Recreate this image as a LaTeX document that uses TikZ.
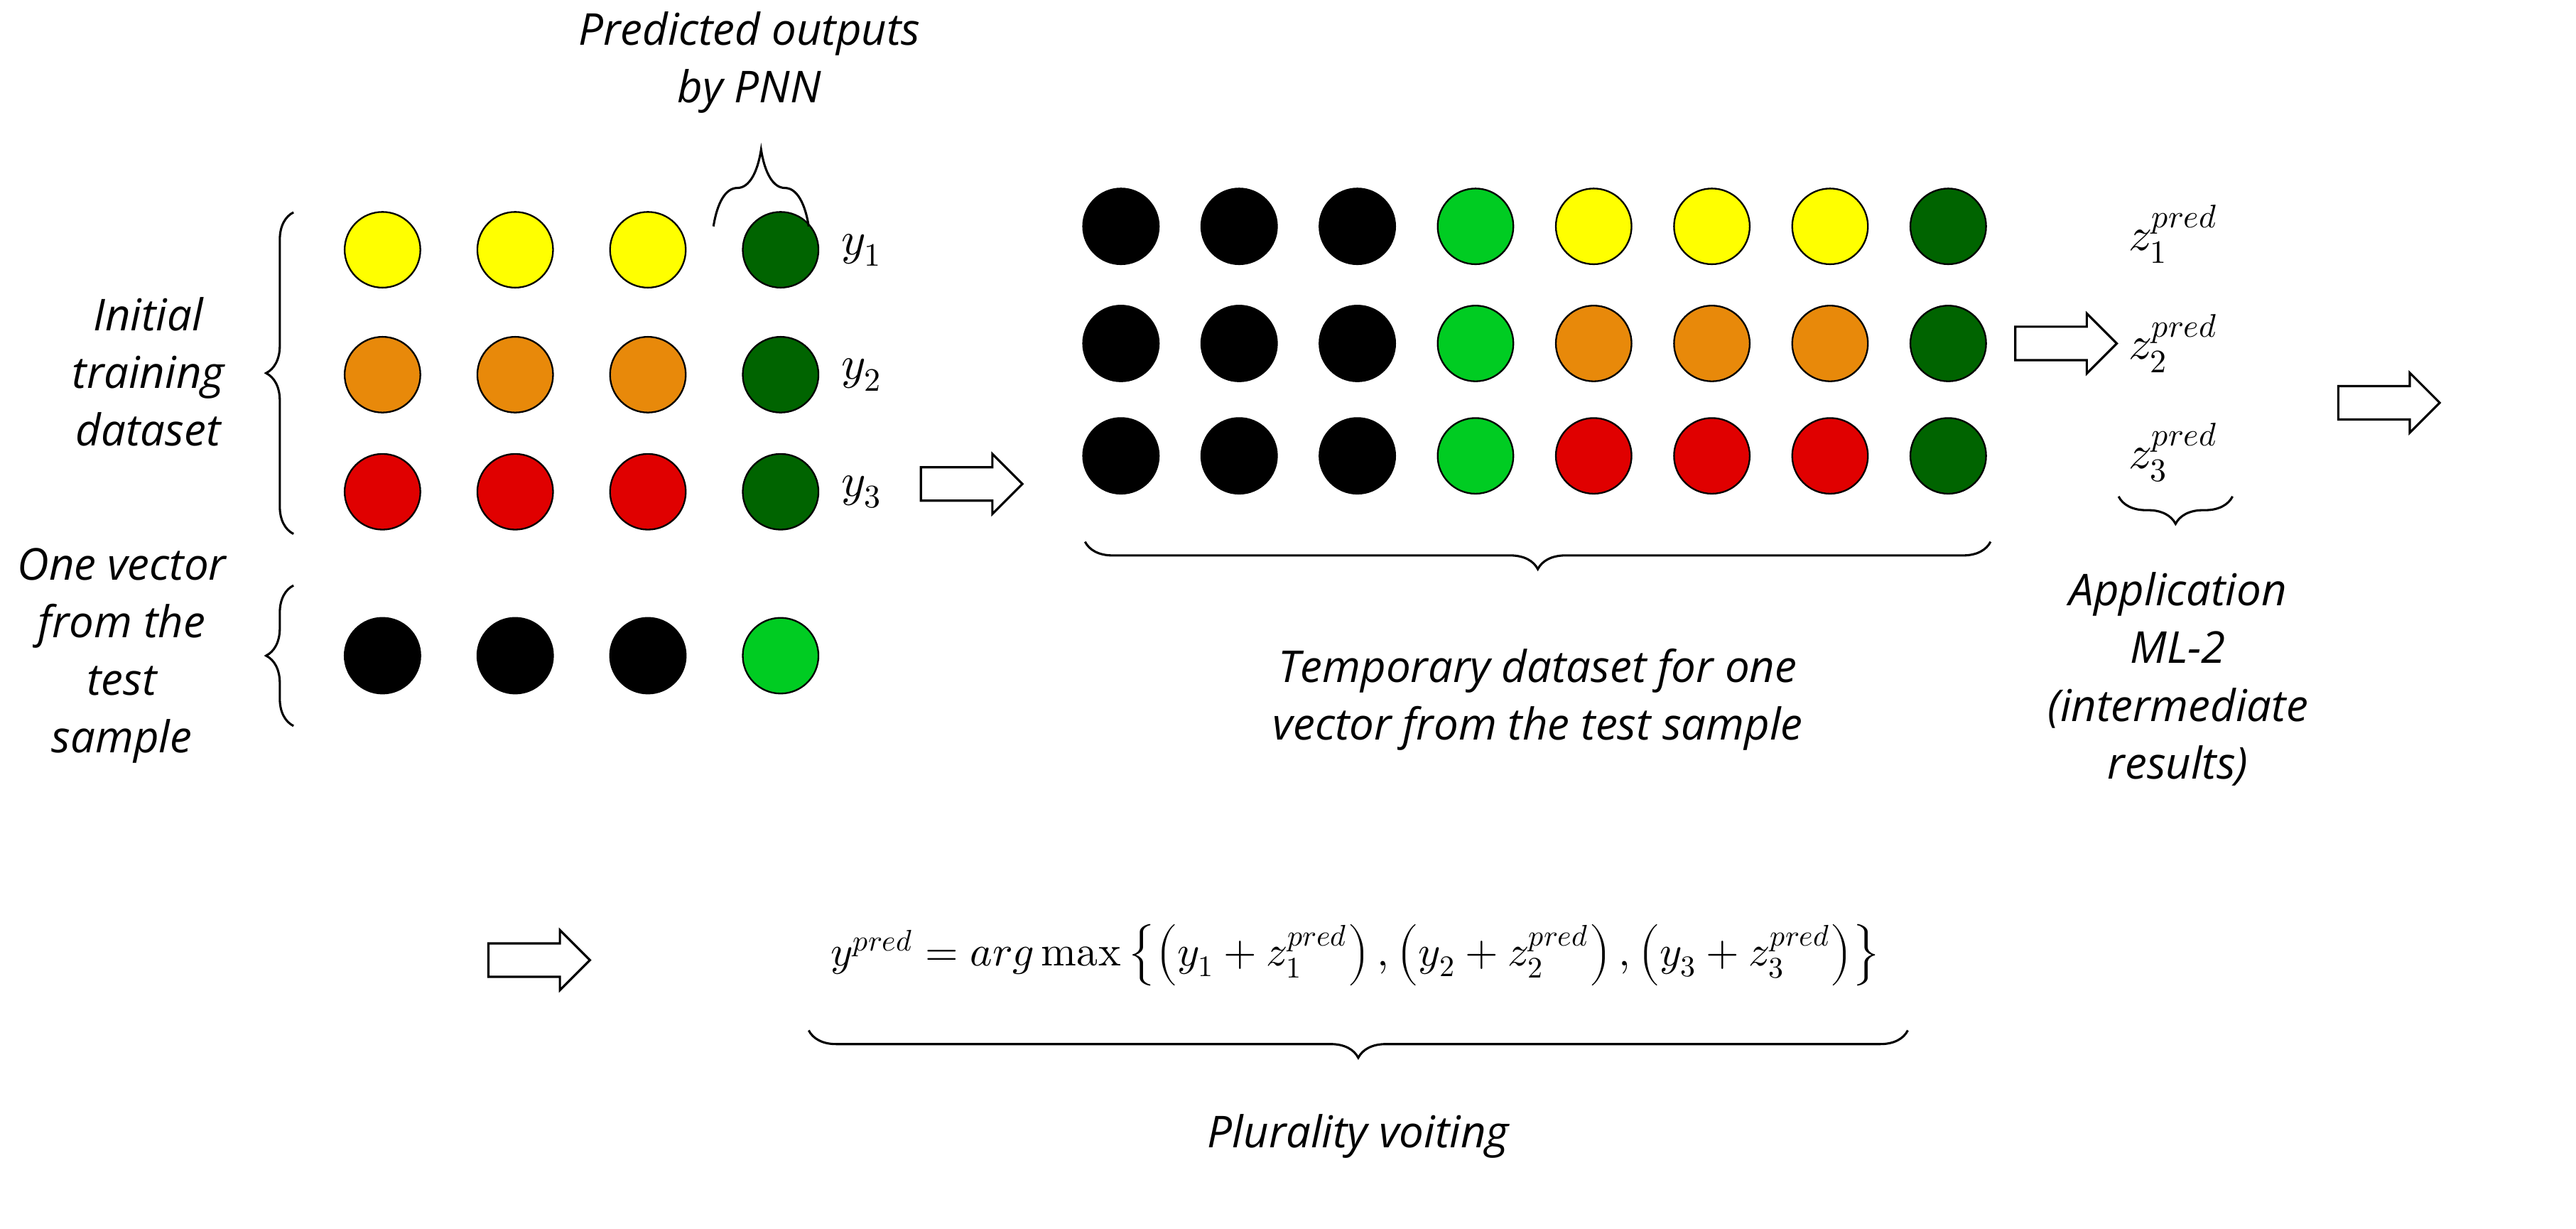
\documentclass[tikz,border=0pt]{standalone}
\usepackage{fontspec}
\setmainfont{Open Sans}
\usepackage{unicode-math}
\setmathfont{Latin Modern Math}
\usetikzlibrary{decorations.pathreplacing,shapes.arrows}
\definecolor{cy}{HTML}{FFFF00}
\definecolor{co}{HTML}{E8890A}
\definecolor{cr}{HTML}{E00000}
\definecolor{cdg}{HTML}{006400}
\definecolor{clg}{HTML}{00CC22}
\begin{document}
\begin{tikzpicture}[x=0.02cm,y=-0.02cm,
  dot/.style={circle,draw=black,line width=0.6pt,minimum size=0.97cm,inner sep=0pt},
  lbl/.style={font=\fontsize{16}{21}\selectfont\itshape,align=center},
  mlbl/.style={font=\fontsize{17}{20}\selectfont},
  br/.style={decorate,decoration={brace,amplitude=10pt},line width=0.8pt},
  harrow/.style={single arrow,draw=black,line width=0.8pt,fill=white,minimum height=1.3cm,inner sep=0.2cm,single arrow head extend=0.17cm}]
\useasboundingbox (0,0) rectangle (1650,787);
% left grid
\foreach \c [count=\i] in {cy,cy,cy,cdg}{\node[dot,fill=\c] (a1\i) at ({160+85*\i},160) {};}
\foreach \c [count=\i] in {co,co,co,cdg}{\node[dot,fill=\c] (a2\i) at ({160+85*\i},240) {};}
\foreach \c [count=\i] in {cr,cr,cr,cdg}{\node[dot,fill=\c] (a3\i) at ({160+85*\i},315) {};}
\foreach \c [count=\i] in {black,black,black,clg}{\node[dot,fill=\c] (t\i) at ({160+85*\i},420) {};}
\node[mlbl] (y1) at (552,160) {$y_1$};
\node[mlbl] (y2) at (552,240) {$y_2$};
\node[mlbl] (y3) at (552,315) {$y_3$};
\draw[br] (188,342) -- (188,136);
\node[lbl] (itd) at (95,238) {Initial\\training\\dataset};
\draw[br] (188,465) -- (188,375);
\node[lbl] (ov) at (78,420) {One vector\\from the\\test\\sample};
\draw[decorate,decoration={brace,amplitude=28pt},line width=0.8pt] (457,145) -- (518,145);
\node[lbl] (pnn) at (480,40) {Predicted outputs\\by PNN};
\node[harrow] (ar1) at (617,310) {};
% middle grid
\foreach \r/\c/\y in {1/cy/145,2/co/220,3/cr/292}{
  \foreach \cc [count=\i] in {black,black,black,clg,\c,\c,\c,cdg}{
    \node[dot,fill=\cc] (m\r\i) at ({718+75.7*(\i-1)},\y) {};}}
\draw[br] (1275,347) -- (695,347);
\node[lbl] (tmp) at (985,448) {Temporary dataset for one\\vector from the test sample};
\node[harrow] (ar2) at (1318,220) {};
\node[mlbl] (z1) at (1392,150) {$z_1^{pred}$};
\node[mlbl] (z2) at (1392,220) {$z_2^{pred}$};
\node[mlbl] (z3) at (1392,290) {$z_3^{pred}$};
\draw[br] (1430,318) -- (1357,318);
\node[lbl] (app) at (1395,435) {Application\\ML-2\\(intermediate\\results)};
\node[harrow,anchor=west] (ar3) at (1497,258) {};
% bottom
\node[harrow] (ar4) at (340,615) {};
\node[font=\fontsize{15.5}{18}\selectfont] (f) at (868,612) {$y^{pred}=arg\,\symup{max}\left\{\left(y_1+z_1^{pred}\right),\left(y_2+z_2^{pred}\right),\left(y_3+z_3^{pred}\right)\right\}$};
\draw[br] (1222,660) -- (518,660);
\node[lbl] (pv) at (870,728) {Plurality voiting};
\end{tikzpicture}
\end{document}
